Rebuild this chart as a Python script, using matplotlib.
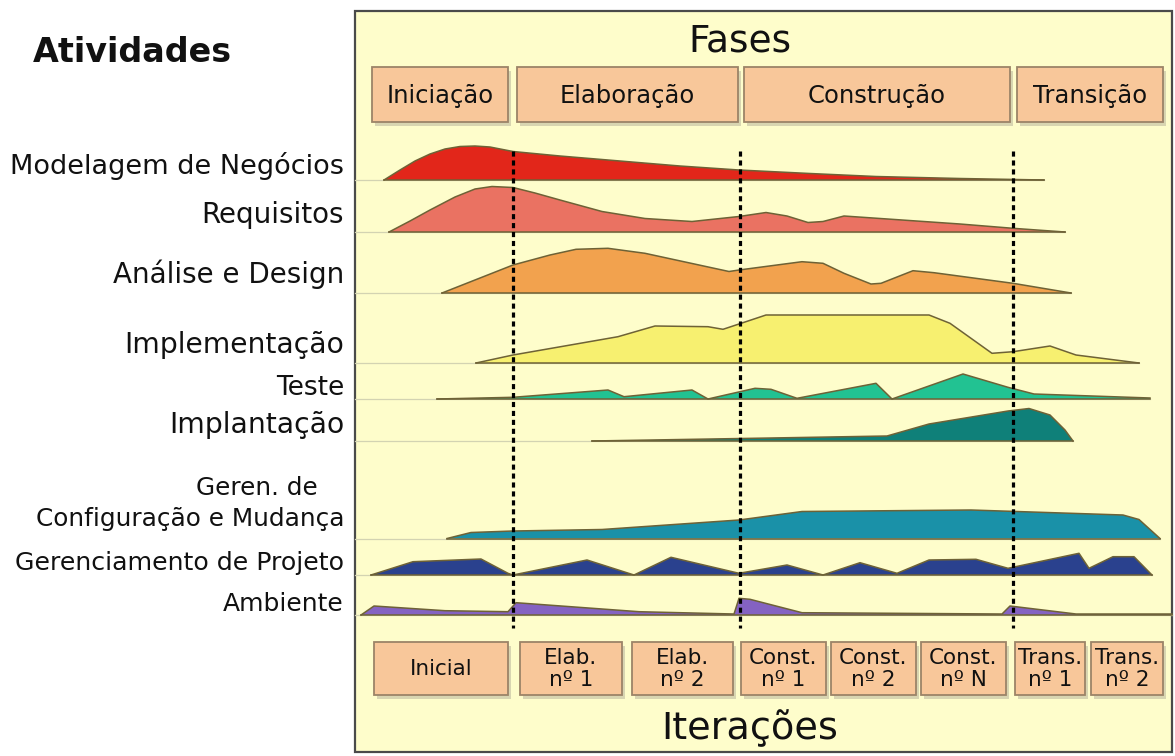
import matplotlib
matplotlib.use("Agg")
import matplotlib.pyplot as plt
from matplotlib.patches import Rectangle

# ---------------- data ----------------
activities = ["Modelagem de Negócios", "Requisitos", "Análise e Design",
              "Implementação", "Teste", "Implantação",
              "Geren. de\nConfiguração e Mudança", "Gerenciamento de Projeto", "Ambiente"]

phases = ["Iniciação", "Elaboração", "Construção", "Transição"]
iterations = ["Inicial", "Elab.\nnº 1", "Elab.\nnº 2", "Const.\nnº 1", "Const.\nnº 2",
              "Const.\nnº N", "Trans.\nnº 1", "Trans.\nnº 2"]

# time (x) and effort (height) of each hump
modelagem_x = [384, 400, 415, 430, 445, 460, 475, 490, 513, 560, 620, 680, 739, 810, 876, 960, 1044]
modelagem_h = [0, 10, 19, 26, 31, 33.5, 34, 33, 28.5, 24, 19, 14, 10, 6.5, 3.5, 1.5, 0]

requisitos_x = [389, 410, 430, 455, 475, 492, 513, 535, 560, 602, 645, 692, 739, 766, 787,
                808, 823, 844, 902, 960, 1013, 1065]
requisitos_h = [0, 11, 22, 35, 43, 45.5, 44.5, 39, 32, 20.5, 13.5, 10.5, 15.5, 19.5, 16,
                9.5, 10.5, 16, 12, 8, 3.7, 0]

analise_x = [442, 513, 550, 576, 608, 645, 729, 739, 802, 823, 844, 871, 881, 913, 934, 1013, 1071]
analise_h = [0, 28, 38, 43.7, 44.7, 39.7, 21.5, 23, 31.3, 29.7, 19.7, 9, 9.7, 22.3, 20.3, 9.7, 0]

implementacao_x = [476, 513, 618, 655, 708, 723, 739, 766, 929, 950, 992, 1013, 1050, 1076, 1139]
implementacao_h = [0, 8, 26.3, 37, 36.3, 33.7, 39, 48, 48, 39.7, 9.7, 11.3, 17, 8, 0]

teste_x = [437, 513, 608, 624, 692, 708, 718, 755, 771, 797, 876, 892, 963, 1008, 1034, 1150]
teste_h = [0, 1.7, 9, 2.3, 9, 0, 2.3, 10.7, 9.7, 0.7, 15.7, 0, 25, 11.7, 5, 1]

implantacao_x = [592, 771, 887, 929, 1008, 1029, 1050, 1065, 1073]
implantacao_h = [0, 3, 5, 17, 30, 32.5, 26, 11, 0]

configuracao_x = [447, 471, 513, 602, 739, 802, 971, 1123, 1139, 1160]
configuracao_h = [0, 6, 7.5, 9, 18.5, 27, 28.5, 23.5, 19, 0]

projeto_x = [371, 413, 481, 508, 513, 587, 634, 671, 739, 787, 823, 860, 897, 929, 976,
             1008, 1079, 1089, 1113, 1134, 1152]
projeto_h = [0, 13.3, 16, 1.7, 0, 15, 0, 17.7, 1.7, 10, 0, 12.3, 1.7, 15, 15.7,
             6.7, 21.7, 6.7, 18.3, 18.3, 0]

ambiente_x = [361, 374, 445, 508, 516, 639, 734, 739, 750, 802, 1002, 1010, 1076, 1172]
ambiente_h = [0, 9, 4.3, 3.3, 12.3, 3.3, 1, 16.7, 15.7, 2.3, 1, 9, 1, 1]

series_x = [modelagem_x, requisitos_x, analise_x, implementacao_x, teste_x,
            implantacao_x, configuracao_x, projeto_x, ambiente_x]
series_h = [modelagem_h, requisitos_h, analise_h, implementacao_h, teste_h,
            implantacao_h, configuracao_h, projeto_h, ambiente_h]

# ---------------- layout / style ----------------
colors = ["#E2261A", "#EA7262", "#F2A24E", "#F7F070", "#22C292",
          "#0F8079", "#1A91A8", "#2A418E", "#8462C2"]
baselines = [180, 232, 293, 363, 399, 441, 538.5, 575, 615]
label_y = [166, 215, 274, 345, 388, 425, (488, 519), 563, 604]
label_size = [19.5, 20, 20, 20.3, 19, 20.3, 17.8, 18.2, 18]

phase_bounds = [(372, 508), (517, 738), (744, 1010), (1017, 1163)]
iter_bounds = [(374, 508), (520, 622), (632, 733), (741, 826), (831, 916),
               (921, 1006), (1015, 1085), (1091, 1163)]
milestones = [513, 740, 1013]

panel_bg = "#FEFDCB"
box_fc = "#F8C79A"
box_ec = "#9C8468"
outline = "#6E6236"
txt = "#111111"

fig = plt.figure(figsize=(11.75, 7.56), dpi=100)
ax = fig.add_axes([0, 0, 1, 1])
ax.set_xlim(0, 1175)
ax.set_ylim(756, 0)
ax.axis("off")

ax.add_patch(Rectangle((355, 11), 817, 741, facecolor=panel_bg,
                       edgecolor="#4a4a4a", linewidth=1.6, zorder=0))

def box(x0, x1, y0, y1, z=2):
    ax.add_patch(Rectangle((x0 + 3, y0 + 4), x1 - x0, y1 - y0, facecolor="#c9c4a6",
                           edgecolor="none", alpha=0.7, zorder=z))
    ax.add_patch(Rectangle((x0, y0), x1 - x0, y1 - y0, facecolor=box_fc,
                           edgecolor=box_ec, linewidth=1.3, zorder=z + 0.1))

ax.text(740, 42, "Fases", fontsize=27, ha="center", va="center", color=txt)
for (a, b), name in zip(phase_bounds, phases):
    box(a, b, 67, 122)
    ax.text((a + b) / 2, 96, name, fontsize=17.5, ha="center", va="center",
            color=txt, zorder=5)

ax.text(750, 728, "Iterações", fontsize=27.5, ha="center", va="center", color=txt)
for (a, b), name in zip(iter_bounds, iterations):
    box(a, b, 642, 695)
    ax.text((a + b) / 2, 669, name, fontsize=15.5, ha="center", va="center",
            color=txt, linespacing=1.1, zorder=5)

ax.text(33, 53, "Atividades", fontsize=24, fontweight="bold", ha="left",
        va="center", color=txt)

for name, xs, hs, c, base, ly, fs in zip(activities, series_x, series_h, colors,
                                         baselines, label_y, label_size):
    ax.plot([355, xs[-1]], [base, base], color="#d3d3b2", lw=0.9, zorder=1)
    top = [base - h for h in hs]
    ax.fill_between(xs, base, top, facecolor=c, edgecolor="none", zorder=3)
    ax.plot(xs, top, color=outline, lw=1.1, zorder=3.5)
    ax.plot([xs[0], xs[-1]], [base, base], color=outline, lw=1.1, zorder=3.5)
    if isinstance(ly, tuple):
        first, second = name.split("\n")
        ax.text(318, ly[0], first, fontsize=fs, ha="right", va="center", color=txt)
        ax.text(344, ly[1], second, fontsize=fs, ha="right", va="center", color=txt)
    else:
        ax.text(344, ly, name, fontsize=fs, ha="right", va="center", color=txt)

for m in milestones:
    ax.plot([m, m], [151, 628], color="black", lw=2.3, linestyle=(0, (1.6, 1.2)), zorder=6)

fig.savefig("out.png", dpi=100, facecolor="white")
